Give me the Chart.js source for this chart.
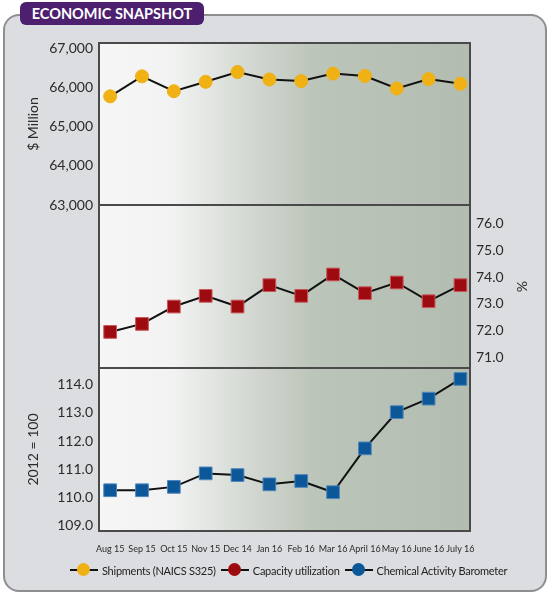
<!DOCTYPE html>
<html>
<head>
<meta charset="utf-8">
<script src="https://cdn.jsdelivr.net/npm/chart.js@4/dist/chart.umd.min.js"></script>
<style>
  body { margin: 0; width: 550px; height: 597px; background: #fff; position: relative; overflow: hidden; font-family: Lato, "Open Sans", sans-serif; }
  #frame { position: absolute; left: 3px; top: 14px; width: 540px; height: 574px; border: 2px solid #8e8f91; border-radius: 16px; background: #dcdde0; }
  #badge { position: absolute; left: 20px; top: 2px; width: 184px; height: 23px; background: #4d1f6f; border-radius: 6px; color: #fff; font: bold 14.5px Lato, sans-serif; line-height: 23px; text-align: center; }
  .box { position: absolute; left: 0; width: 550px; }
  #legend { position: absolute; left: 70px; top: 561px; height: 18px; width: 470px; display: flex; align-items: center; font-size: 11px; letter-spacing: -0.25px; color: #222; white-space: nowrap; }
  .item { display: flex; align-items: center; margin-right: 5px; flex: none; }
  .mark { position: relative; width: 28px; height: 14px; margin-right: 4px; flex: none; }
  .mark:before { content: ""; position: absolute; left: 0; right: 0; top: 6px; height: 2px; background: #111; }
  .mark span { position: absolute; left: 7px; top: 0; width: 13px; height: 13px; border-radius: 50%; }
</style>
</head>
<body>
<div id="frame"></div>
<div id="badge">ECONOMIC SNAPSHOT</div>
<div class="box" style="top:33px;height:182px"><canvas id="c1"></canvas></div>
<div class="box" style="top:195px;height:183px"><canvas id="c2"></canvas></div>
<div class="box" style="top:358px;height:202px"><canvas id="c3"></canvas></div>
<div id="legend"></div>
<script>
const months = ['Aug 15', 'Sep 15', 'Oct 15', 'Nov 15', 'Dec 14', 'Jan 16', 'Feb 16', 'Mar 16', 'April 16', 'May 16', 'June 16', 'July 16'];
const shipments = [65770, 66280, 65900, 66140, 66390, 66200, 66160, 66350, 66290, 65970, 66210, 66090];
const capacity = [71.95, 72.25, 72.9, 73.3, 72.9, 73.7, 73.3, 74.1, 73.4, 73.8, 73.1, 73.7];
const cab = [110.25, 110.25, 110.37, 110.85, 110.79, 110.46, 110.58, 110.18, 111.74, 113.03, 113.51, 114.21];
const shipTicks = [63000, 64000, 65000, 66000, 67000];
const capTicks = [71, 72, 73, 74, 75, 76];
const cabTicks = [109, 110, 111, 112, 113, 114];
const seriesNames = ['Shipments (NAICS S325)', 'Capacity utilization', 'Chemical Activity Barometer'];
const seriesColors = ['#f0b114', '#9d0b10', '#0c5797'];

const FONT = 'Lato';
const LEFT_W = 99, RIGHT_W = 80;

// gradient background + frame of the plot area
const plotBg = {
  id: 'plotBg',
  beforeDraw(chart) {
    const {ctx, chartArea: a} = chart;
    const g = ctx.createLinearGradient(a.left, 0, a.right, 0);
    g.addColorStop(0, '#f6f6f6');
    g.addColorStop(0.2, '#f1f2f1');
    g.addColorStop(0.4, '#d4d9d3');
    g.addColorStop(0.58, '#bcc5ba');
    g.addColorStop(1, '#b2bcb0');
    ctx.save();
    ctx.fillStyle = g;
    ctx.fillRect(a.left, a.top, a.right - a.left, a.bottom - a.top);
    ctx.restore();
  },
  beforeDatasetsDraw(chart) {
    const {ctx, chartArea: a} = chart;
    ctx.save();
    ctx.strokeStyle = '#4a4a4a';
    ctx.lineWidth = 2;
    ctx.strokeRect(a.left, a.top, a.right - a.left, a.bottom - a.top);
    ctx.restore();
  }
};

let toXY = function(vals) {
  return vals.map((v, i) => ({x: i, y: v}));
};

// kill the label overhang padding so the plot box lands exactly where we want it
let noOverhang = function(ax) {
  ax.paddingTop = 0; ax.paddingBottom = 0; ax.paddingLeft = 0; ax.paddingRight = 0;
};

let makePanel = function(id, o) {
  const yAxis = {
    position: o.side,
    min: o.min, max: o.max,
    grid: {display: false, drawTicks: false},
    border: {display: false},
    afterBuildTicks: function(ax) { ax.ticks = o.ticks.map(v => ({value: v})); },
    ticks: {
      padding: 6,
      color: '#2b2b2b',
      font: {family: FONT, size: 14},
      callback: o.fmt
    },
    title: {
      display: true,
      text: o.title,
      color: '#2b2b2b',
      font: {family: FONT, size: 14},
      padding: {top: o.side == 'left' ? 25 : 20, bottom: 0}
    },
    afterFit: function(ax) { ax.width = o.side == 'left' ? LEFT_W : RIGHT_W; noOverhang(ax); }
  };
  const xAxis = {
    type: 'linear',
    min: -0.35, max: 11.3,
    display: !!o.xLabels,
    grid: {display: false, drawTicks: false},
    border: {display: false},
    afterBuildTicks: function(ax) { ax.ticks = months.map((m, i) => ({value: i})); },
    ticks: {
      autoSkip: false,
      maxRotation: 0,
      padding: 13,
      color: '#2b2b2b',
      font: {family: FONT, size: 9},
      callback: v => months[v] || ''
    },
    afterFit: function(ax) { if (o.xLabels) ax.height = 29; noOverhang(ax); }
  };
  return new Chart(id, {
    type: 'line',
    data: {
      datasets: [{
        label: o.label,
        data: toXY(o.data),
        borderColor: '#111',
        borderWidth: 2,
        pointStyle: o.shape,
        pointRadius: o.shape == 'rect' ? 9 : 6.5,
        pointBackgroundColor: o.color,
        pointBorderColor: o.edge,
        pointBorderWidth: 1,
        clip: 12
      }]
    },
    options: {
      responsive: true,
      maintainAspectRatio: false,
      animation: false,
      layout: {
        padding: {
          top: 10,
          bottom: o.xLabels ? 0 : 10,
          left: o.side == 'left' ? 0 : LEFT_W,
          right: o.side == 'left' ? RIGHT_W : 0
        }
      },
      scales: {x: xAxis, y: yAxis},
      plugins: {legend: {display: false}, tooltip: {enabled: false}}
    },
    plugins: [plotBg]
  });
};

makePanel('c1', {
  side: 'left', min: 63000, max: 67130, ticks: shipTicks, title: '$ Million',
  fmt: v => v.toLocaleString('en-US'),
  label: seriesNames[0], data: shipments, shape: 'circle', color: seriesColors[0], edge: seriesColors[0]
});
makePanel('c2', {
  side: 'right', min: 70.6, max: 76.7, ticks: capTicks, title: '%',
  fmt: v => v.toFixed(1),
  label: seriesNames[1], data: capacity, shape: 'rect', color: seriesColors[1], edge: '#c9585c'
});
makePanel('c3', {
  side: 'left', min: 108.8, max: 114.6, ticks: cabTicks, title: '2012 = 100',
  fmt: v => v.toFixed(1), xLabels: true,
  label: seriesNames[2], data: cab, shape: 'rect', color: seriesColors[2], edge: '#4f86bb'
});

// legend: line with a round marker, like the printed one
const lg = document.getElementById('legend');
seriesNames.forEach(function(n, i) {
  const it = document.createElement('div');
  it.className = 'item';
  it.innerHTML = '<div class="mark"><span style="background:' + seriesColors[i] + '"></span></div>' + n;
  lg.appendChild(it);
});
</script>
</body>
</html>
